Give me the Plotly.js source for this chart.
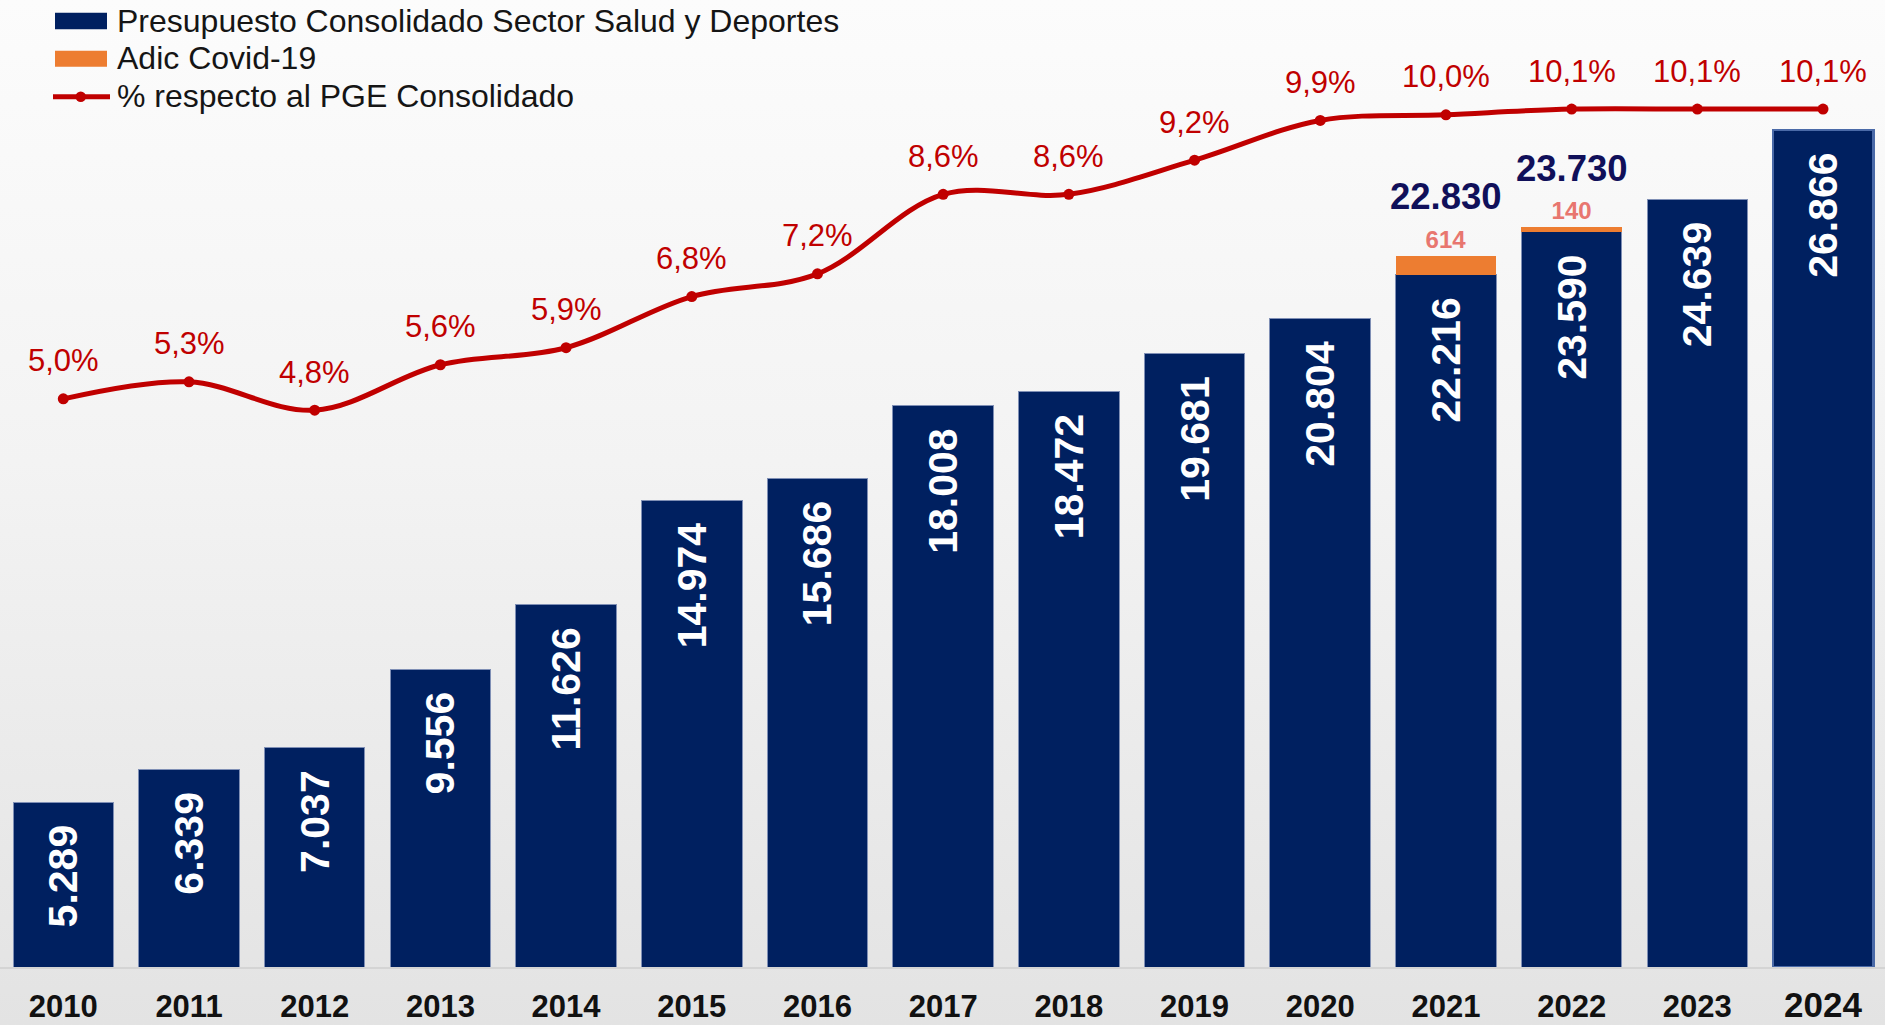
<!DOCTYPE html>
<html>
<head>
<meta charset="utf-8">
<script src="https://cdn.plot.ly/plotly-3.0.1.min.js"></script>
<style>
  html, body { margin: 0; padding: 0; }
  body { width: 1885px; height: 1025px; overflow: hidden;
         background: linear-gradient(to bottom, #fcfcfc 0%, #f3f3f3 45%, #e3e3e3 100%); }
  #chart { width: 1885px; height: 1025px; }
</style>
</head>
<body>
<div id="chart"></div>
<script>
// ---- data ----
const years = ['2010','2011','2012','2013','2014','2015','2016','2017','2018','2019','2020','2021','2022','2023','2024'];
const presupuesto = [5289, 6339, 7037, 9556, 11626, 14974, 15686, 18008, 18472, 19681, 20804, 22216, 23590, 24639, 26866];
const adicCovid = [null, null, null, null, null, null, null, null, null, null, null, 614, 140, null, null];
const pctPGE = [5.0, 5.3, 4.8, 5.6, 5.9, 6.8, 7.2, 8.6, 8.6, 9.2, 9.9, 10.0, 10.1, 10.1, 10.1];
const seriesNames = ['Presupuesto Consolidado Sector Salud y Deportes', 'Adic Covid-19', '% respecto al PGE Consolidado'];

// ---- style ----
const NAVY = '#002060', ORANGE = '#ED7D31', RED = '#C00000';
const FONT = 'Liberation Sans, Arial, sans-serif';
const W = 1885, H = 1025, PLOT_H = 967;

function fmtThousands(v) {
  return String(Math.round(v)).replace(/\B(?=(\d{3})+(?!\d))/g, '.');
}
function fmtPct(v) { return v.toFixed(1).replace('.', ',') + '%'; }

const lastIdx = years.length - 1;

const traces = [
  {
    type: 'bar', name: seriesNames[0], x: years, y: presupuesto,
    marker: {
      color: NAVY,
      line: {
        color: years.map((_, i) => i === lastIdx ? '#4a6aa8' : '#7f8fb5'),
        width: years.map((_, i) => i === lastIdx ? 2.5 : 1)
      }
    },
    texttemplate: '%{y:,.0f}\u00a0\u2009',
    textposition: 'inside', insidetextanchor: 'end', textangle: -90,
    textfont: { family: FONT, size: 41, color: '#ffffff', weight: 'bold' },
    constraintext: 'none',
    showlegend: false, hoverinfo: 'skip'
  },
  {
    type: 'bar', name: seriesNames[1], x: years, y: adicCovid,
    marker: { color: ORANGE },
    text: adicCovid.map(v => v == null ? '' : fmtThousands(v)),
    textposition: 'outside', textangle: 0,
    textfont: { family: FONT, size: 24, color: '#E8766F', weight: 'bold' },
    constraintext: 'none', cliponaxis: false,
    showlegend: false, hoverinfo: 'skip'
  },
  {
    type: 'scatter', name: seriesNames[2], x: years, y: pctPGE, yaxis: 'y2',
    mode: 'lines+markers',
    line: { color: RED, width: 5, shape: 'spline', smoothing: 1 },
    marker: { color: RED, size: 11 },
    cliponaxis: false,
    showlegend: false, hoverinfo: 'skip'
  }
];

const annotations = [];
// percent labels (x given as category index)
years.forEach((yr, i) => {
  annotations.push({
    x: i, y: pctPGE[i], xref: 'x', yref: 'y2', yshift: 38,
    text: fmtPct(pctPGE[i]), showarrow: false, xanchor: 'center', yanchor: 'middle',
    font: { family: FONT, size: 31, color: RED }
  });
});
// totals above stacked bars
years.forEach((yr, i) => {
  if (adicCovid[i] != null) {
    annotations.push({
      x: i, y: presupuesto[i] + adicCovid[i], xref: 'x', yref: 'y', yshift: 59,
      text: '<b>' + fmtThousands(presupuesto[i] + adicCovid[i]) + '</b>',
      showarrow: false, xanchor: 'center', yanchor: 'middle',
      font: { family: FONT, size: 36.5, color: '#10105a' }
    });
  }
});
// custom legend (pixel -> paper)
const px = x => x / W;
const py = y => 1 - y / PLOT_H;
const legendRows = [20.5, 58, 95.5];
seriesNames.forEach((nm, i) => {
  annotations.push({
    x: px(115), y: py(legendRows[i]), xref: 'paper', yref: 'paper',
    text: nm, showarrow: false, xanchor: 'left', yanchor: 'middle',
    font: { family: FONT, size: 32, color: '#151515' }
  });
});
const shapes = [
  { type: 'rect', xref: 'paper', yref: 'paper', x0: px(55), x1: px(107), y0: py(12.7), y1: py(29.3),
    fillcolor: NAVY, line: { width: 0 } },
  { type: 'rect', xref: 'paper', yref: 'paper', x0: px(55), x1: px(107), y0: py(50.7), y1: py(66.7),
    fillcolor: ORANGE, line: { width: 0 } },
  { type: 'line', xref: 'paper', yref: 'paper', x0: px(53), x1: px(110), y0: py(96.7), y1: py(96.7),
    line: { color: RED, width: 5 } },
  { type: 'circle', xref: 'paper', yref: 'paper', x0: px(75.5), x1: px(86), y0: py(91.5), y1: py(102),
    fillcolor: RED, line: { width: 0 } }
];

const layout = {
  width: W, height: H, autosize: false,
  margin: { l: 0, r: 0, t: 0, b: H - PLOT_H, pad: 0 },
  paper_bgcolor: 'rgba(0,0,0,0)', plot_bgcolor: 'rgba(0,0,0,0)',
  separators: ',.',
  barmode: 'stack', bargap: 0.2,
  font: { family: FONT },
  showlegend: false,
  xaxis: {
    type: 'category', range: [-0.5036, 14.493], fixedrange: true,
    tickvals: years,
    ticktext: years.map((y, i) => i === lastIdx ? '<span style="font-size:35px">' + y + '</span>' : y),
    tickfont: { family: FONT, size: 31, color: '#111111', weight: 'bold' },
    ticks: '', showgrid: false, zeroline: false,
    showline: true, linecolor: '#d4d4d4', linewidth: 2,
    ticklabelstandoff: 11
  },
  yaxis: {
    range: [0, 31030], showticklabels: false, showgrid: false, zeroline: false, showline: false, fixedrange: true
  },
  yaxis2: {
    overlaying: 'y', side: 'right', range: [-5.0, 12.02],
    showticklabels: false, showgrid: false, zeroline: false, showline: false, fixedrange: true
  },
  annotations: annotations,
  shapes: shapes
};

Plotly.newPlot('chart', traces, layout, { displayModeBar: false, staticPlot: true });
</script>
</body>
</html>
